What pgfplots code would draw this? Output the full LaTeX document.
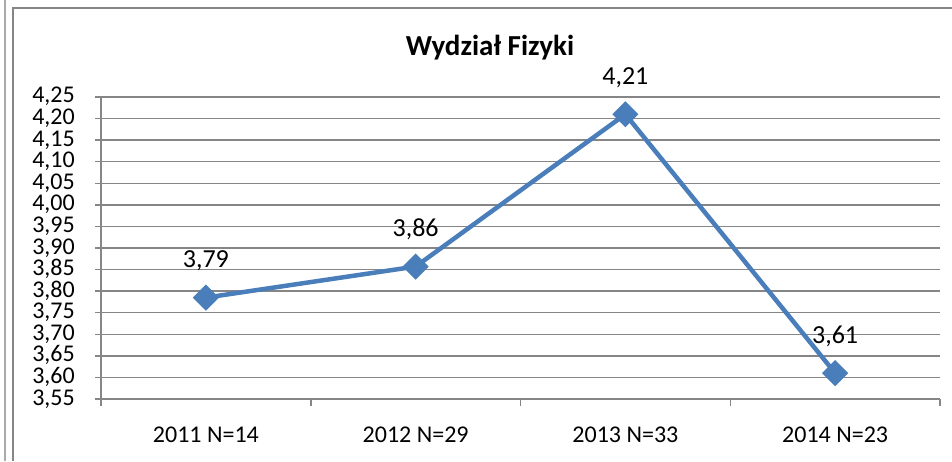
\documentclass[border=0pt]{standalone}
\usepackage{pgfplots}
\pgfplotsset{compat=1.18}
\usepackage{fontspec}
\setmainfont{Carlito}
\definecolor{ser}{RGB}{74,126,187}
\definecolor{gr}{RGB}{134,134,134}
\begin{document}
\begin{tikzpicture}[x=1pt,y=1pt]
\path[use as bounding box] (0,0) rectangle (952,461);
\draw[gr!70, line width=1.5pt] (5,0) -- (5,461);
\draw[gr, line width=2pt] (12.5,0) -- (12.5,453) -- (952,453);
\node[font=\fontsize{29}{29}\selectfont\bfseries] at (490,413) {Wydział Fizyki};
\begin{axis}[at={(101pt,62pt)}, anchor=south west, scale only axis,
  width=839pt, height=302pt,
  xmin=0.5, xmax=4.5, ymin=3.55, ymax=4.25,
  axis x line*=bottom, axis y line*=left,
  axis line style={gr, line width=1.5pt, -},
  ytick={3.55,3.60,3.65,3.70,3.75,3.80,3.85,3.90,3.95,4.00,4.05,4.10,4.15,4.20,4.25},
  xtick={1,2,3,4},
  xticklabels={2011 N=14,2012 N=29,2013 N=33,2014 N=23},
  minor xtick={0.5,1.5,2.5,3.5,4.5},
  major x tick style={draw=none},
  minor x tick style={gr, line width=1.5pt},
  major y tick style={gr, line width=1.5pt},
  tick align=outside,
  major tick length=6pt, minor tick length=7pt,
  ymajorgrids, grid style={gr, line width=1.5pt},
  /pgf/number format/.cd, use comma, fixed, fixed zerofill, precision=2, assume math mode=true,
  /pgfplots/.cd,
  ticklabel style={font=\fontsize{24}{24}\selectfont},
  yticklabel style={inner sep=0pt, xshift=-20pt, text height=15pt, text depth=3pt},
  xticklabel style={inner sep=0pt, yshift=-22pt},
  clip=false,
  point meta=explicit symbolic,
  nodes near coords,
  every node near coord/.style={anchor=center, yshift=37pt, text=black, font=\fontsize{26}{26}\selectfont},
]
\addplot[ser, line width=4.5pt, mark=square*, mark size=7pt, mark options={rotate=45, solid}]
  table[meta=lab] {
x y lab
1 3.785 3,79
2 3.857 3,86
3 4.21 4,21
4 3.61 3,61
};
\end{axis}
\end{tikzpicture}
\end{document}
